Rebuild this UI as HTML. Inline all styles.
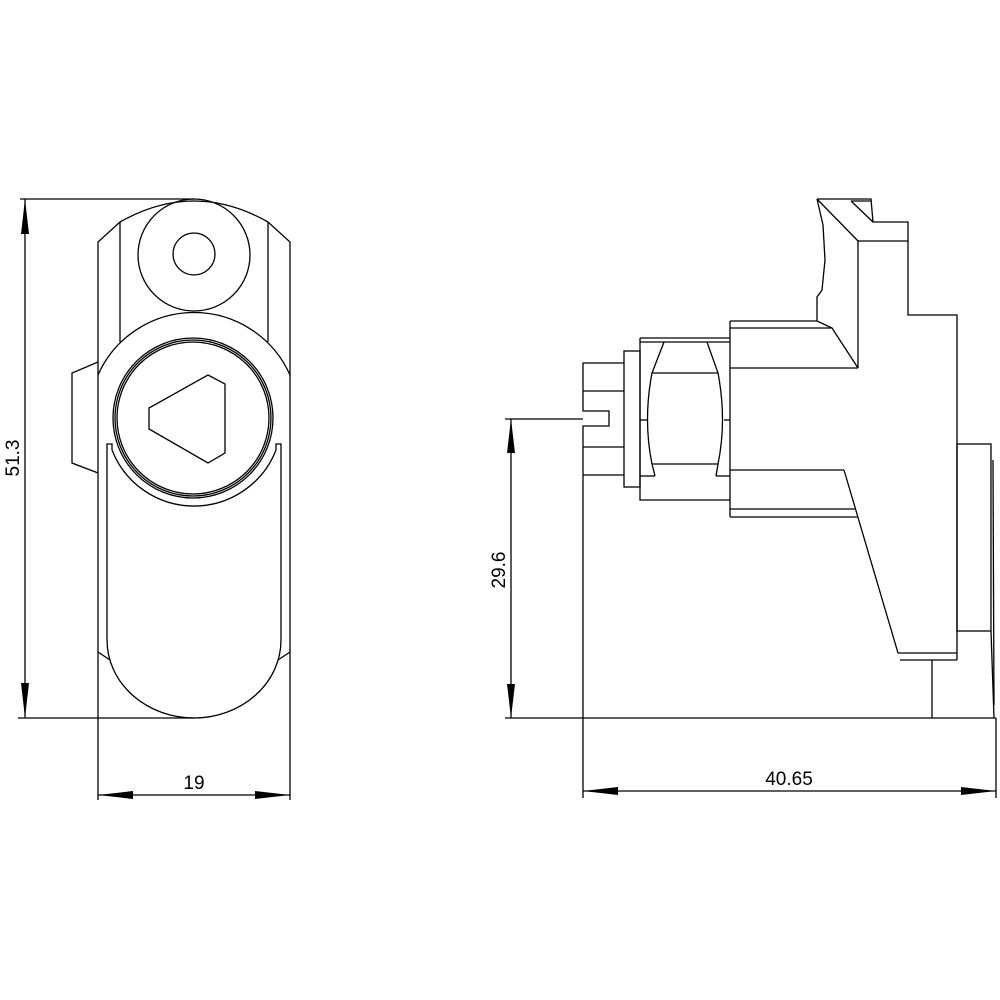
<!DOCTYPE html>
<html><head><meta charset="utf-8"><style>html,body{margin:0;padding:0;background:#fff}svg{display:block}</style></head><body>
<svg width="1000" height="1000" viewBox="0 0 1000 1000" xmlns="http://www.w3.org/2000/svg">
<g fill="none" stroke="#000" stroke-width="1.3">
<!-- LEFT VIEW -->
<polyline points="98,800 98,242 120,222"/>
<polyline points="290,800 290,242 268,222"/>
<line x1="120" y1="222" x2="120" y2="342"/>
<line x1="268" y1="222" x2="268" y2="342"/>
<path d="M120,222 Q194,180 268,222"/>
<circle cx="194" cy="255" r="56"/>
<circle cx="194" cy="254" r="21"/>
<path d="M98,375 A105,105 0 0 1 290,375"/>
<circle cx="193" cy="418" r="80"/>
<circle cx="193" cy="418" r="78"/>
<circle cx="193" cy="418" r="76"/>
<polygon points="208,375 225,384 225,453 208,463 149,429 149,408"/>
<polyline points="98,362 72,373 72,463 98,473"/>
<polyline points="112,450 112,444 107,444 107,640"/>
<polyline points="276,450 276,444 281,444 281,640"/>
<path d="M112,450 A88,88 0 0 0 276,450"/>
<path d="M107,640 A87,78 0 0 0 281,640"/>
<line x1="98" y1="652" x2="110" y2="660"/>
<line x1="290" y1="652" x2="278" y2="660"/>
<line x1="20" y1="199" x2="194" y2="199"/>
<line x1="18" y1="718" x2="194" y2="718"/>
<line x1="25" y1="199" x2="25" y2="718"/>
<line x1="98" y1="795" x2="290" y2="795"/>

<!-- RIGHT VIEW -->
<polyline points="817,199 871,199 873,222 908,222 908,315 957,315 957,660"/>
<line x1="851" y1="201" x2="871" y2="201"/>
<line x1="851" y1="201" x2="873" y2="222"/>
<line x1="817" y1="199" x2="858" y2="241"/>
<line x1="858" y1="241" x2="908" y2="241"/>
<line x1="858" y1="241" x2="858" y2="368"/>
<path d="M817,199 L823,225 L825,260 L822,290 L817,297 L817,321"/>
<polyline points="730,321 817,321 832,328 858,368"/>
<line x1="730" y1="328" x2="832" y2="328"/>
<line x1="730" y1="368" x2="858" y2="368"/>
<line x1="730" y1="321" x2="730" y2="517"/>
<line x1="730" y1="470" x2="844" y2="470"/>
<line x1="730" y1="509" x2="856" y2="509"/>
<line x1="730" y1="517" x2="858" y2="517"/>
<polyline points="844,470 898,653 957,653"/>
<polyline points="900,660 957,660"/>
<line x1="932" y1="660" x2="932" y2="718"/>
<rect x="957" y="444" width="34" height="187"/>
<line x1="991" y1="631" x2="994" y2="718"/>
<line x1="993" y1="460" x2="994" y2="705"/>
<!-- lens section -->
<line x1="640" y1="338" x2="730" y2="338"/>
<line x1="640" y1="342" x2="730" y2="342"/>
<polyline points="640,338 640,500 730,500"/>
<line x1="652" y1="373" x2="718" y2="373"/>
<line x1="652" y1="464" x2="718" y2="464"/>
<path d="M664,342 L652,373 Q643,420 652,464 L655,476"/>
<path d="M707,342 L718,373 Q727,420 718,464 L716,476"/>
<line x1="640" y1="476" x2="655" y2="476"/>
<line x1="716" y1="476" x2="730" y2="476"/>
<line x1="640" y1="420" x2="647" y2="420"/>
<line x1="724" y1="420" x2="730" y2="420"/>
<rect x="624" y="351" width="16" height="136"/>
<polyline points="583,798 583,426 609,426 609,411 583,411 583,363 624,363"/>
<line x1="583" y1="391" x2="624" y2="391"/>
<line x1="583" y1="447" x2="624" y2="447"/>
<line x1="583" y1="475" x2="624" y2="475"/>
<line x1="505" y1="419" x2="583" y2="419"/>
<line x1="505" y1="718" x2="996" y2="718"/>
<line x1="996" y1="718" x2="996" y2="798"/>
<line x1="511" y1="419" x2="511" y2="718"/>
<line x1="583" y1="791" x2="996" y2="791"/>
</g>
<g fill="#000">
<polygon points="25,199 21,234 29,234"/>
<polygon points="25,718 21,683 29,683"/>
<polygon points="98,795 133,791 133,799"/>
<polygon points="290,795 255,791 255,799"/>
<polygon points="511,419 507,453 515,453"/>
<polygon points="511,718 507,684 515,684"/>
<polygon points="583,791 618,787 618,795"/>
<polygon points="996,791 961,787 961,795"/>
</g>
<g font-family="Liberation Sans, sans-serif" font-size="19" fill="#000" text-anchor="middle">
<text x="194" y="789">19</text>
<text x="789" y="785">40.65</text>
<text transform="translate(19,458) rotate(-90)">51.3</text>
<text transform="translate(505,570) rotate(-90)">29.6</text>
</g>
</svg>
</body></html>
